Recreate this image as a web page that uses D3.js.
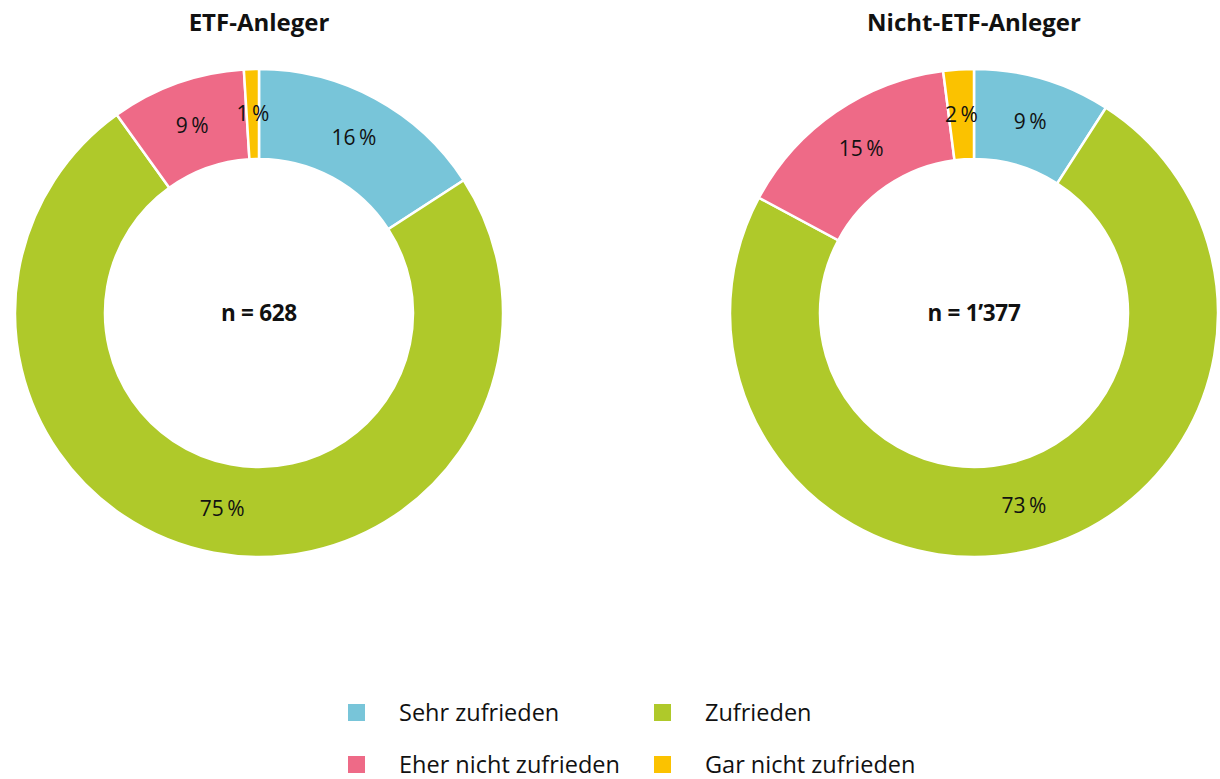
<!doctype html>
<html>
<head>
<meta charset="utf-8">
<title>ETF-Anleger Zufriedenheit</title>
<script src="https://cdn.jsdelivr.net/npm/d3@7"></script>
<style>
  body { margin: 0; background: #fff; }
  text { font-family: "Open Sans", sans-serif; fill: #111; }
</style>
</head>
<body>
<script>
// data
var categories = ["Sehr zufrieden", "Zufrieden", "Eher nicht zufrieden", "Gar nicht zufrieden"];
var colors = ["#78c5d9", "#afc92a", "#ee6a87", "#fbc200"];
var groups = ["ETF-Anleger", "Nicht-ETF-Anleger"];
var sampleSizes = ["n = 628", "n = 1\u2019377"];
var etfValues = [16, 75, 9, 1];
var nonEtfValues = [9, 73, 15, 2];

var w = 1220, h = 779;
var outerR = 244, innerR = 154;
var centers = [[259, 313], [974, 313]];

var svg = d3.select("body").append("svg").attr("width", w).attr("height", h);

var pie = d3.pie().sort(null).value(function(d){ return d.v; });
var arc = d3.arc().innerRadius(innerR).outerRadius(outerR);
var color = d3.scaleOrdinal().domain(categories).range(colors);

[etfValues, nonEtfValues].forEach(function(vals, i){
  var data = vals.map(function(v, k){ return {cat: categories[k], v: v}; });
  var g = svg.append("g").attr("transform", "translate(" + centers[i][0] + "," + centers[i][1] + ")");

  g.selectAll("path")
    .data(pie(data))
    .enter()
    .append("path")
    .attr("d", arc)
    .attr("fill", function(d){ return color(d.data.cat); })
    .attr("stroke", "#fff")
    .attr("stroke-width", 2.5);

  g.selectAll("text.lbl")
    .data(pie(data))
    .enter()
    .append("text")
    .attr("class", "lbl")
    .attr("transform", function(d){ return "translate(" + arc.centroid(d) + ")"; })
    .attr("text-anchor", "middle")
    .attr("dy", "0.35em")
    .attr("font-size", "21px")
    .text(function(d){ return d.data.v + "\u2009%"; });

  g.append("text")
    .attr("text-anchor", "middle")
    .attr("dy", "0.35em")
    .attr("font-size", "22.5px")
    .attr("font-weight", "bold")
    .attr("letter-spacing", "-0.3px")
    .text(sampleSizes[i]);

  svg.append("text")
    .attr("x", centers[i][0])
    .attr("y", 31)
    .attr("text-anchor", "middle")
    .attr("font-size", "24px")
    .attr("font-weight", "bold")
    .text(groups[i]);
});

// legend
var legX = [348, 654], legY = [712.5, 764.5];
var leg = svg.selectAll("g.leg")
  .data(categories)
  .enter()
  .append("g")
  .attr("class", "leg")
  .attr("transform", function(d, i){ return "translate(" + legX[i % 2] + "," + legY[Math.floor(i / 2)] + ")"; });

leg.append("rect")
  .attr("x", 0).attr("y", -8.5)
  .attr("width", 17).attr("height", 17)
  .attr("fill", function(d){ return color(d); });

leg.append("text")
  .attr("x", 51)
  .attr("dy", "0.35em")
  .attr("font-size", "23.5px")
  .text(function(d){ return d; });
</script>
</body>
</html>
